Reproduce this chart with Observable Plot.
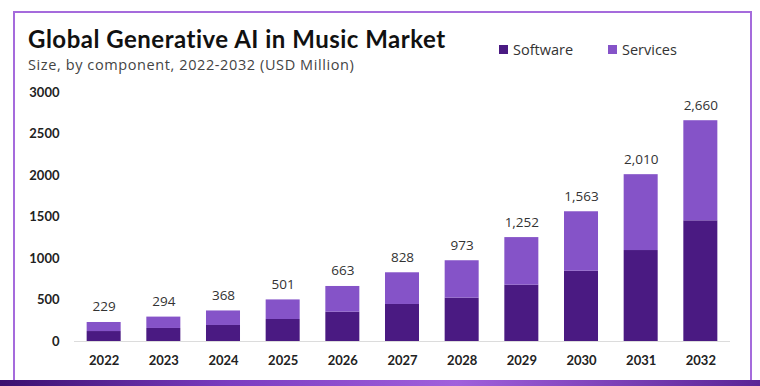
<!DOCTYPE html>
<html>
<head>
<meta charset="utf-8">
<script src="https://cdn.jsdelivr.net/npm/d3@7"></script>
<script src="https://cdn.jsdelivr.net/npm/@observablehq/plot@0.6"></script>
<style>
  html, body { margin: 0; padding: 0; background: #fff; }
  #wrap { position: relative; width: 760px; height: 386px; overflow: hidden; background: #fff; }
  #frame { position: absolute; left: 13px; top: 11px; width: 735px; height: 369px; border: 2px solid #a56bdc; border-bottom: none; box-sizing: content-box; }
  #strip { position: absolute; left: 0; top: 380px; width: 760px; height: 6px; background: linear-gradient(90deg, #3a0f6e 0%, #7a3cc0 30%, #a160dc 60%, #5a2596 100%); }
  #title { position: absolute; left: 28px; top: 24px; font-family: Lato, "Open Sans", sans-serif; font-weight: 700; font-size: 24px; color: #111; white-space: nowrap; letter-spacing: 0.5px; }
  #subtitle { position: absolute; left: 28px; top: 55px; font-family: "Open Sans", sans-serif; font-size: 14.5px; color: #444; white-space: nowrap; letter-spacing: 0.6px; }
  #legend { position: absolute; left: 499px; top: 40px; font-family: "Open Sans", sans-serif; font-size: 14.5px; color: #333; white-space: nowrap; }
  .item { position: absolute; top: 0; display: flex; align-items: center; }
  .sw { width: 9px; height: 9px; margin-right: 5px; }
  #chart { position: absolute; left: 0; top: 80px; }
</style>
</head>
<body>
<div id="wrap">
  <div id="frame"></div>
  <div id="strip"></div>
  <div id="title">Global Generative AI in Music Market</div>
  <div id="subtitle">Size, by component, 2022-2032 (USD Million)</div>
  <div id="legend"></div>
  <div id="chart"></div>
</div>
<script>
const years = ["2022","2023","2024","2025","2026","2027","2028","2029","2030","2031","2032"];
const totals = [229, 294, 368, 501, 663, 828, 973, 1252, 1563, 2010, 2660];
const software = [120, 157, 193, 265, 353, 446, 522, 678, 847, 1096, 1454];
const services = [109, 137, 175, 236, 310, 382, 451, 574, 716, 914, 1206];
const components = ["Software", "Services"];
const colors = ["#4a1a82", "#8553c8"];
const yTicks = [0, 500, 1000, 1500, 2000, 2500, 3000];

const data = years.flatMap((yr, i) => [
  {year: yr, comp: "Software", value: software[i]},
  {year: yr, comp: "Services", value: services[i]}
]);
const labels = years.map((yr, i) => ({year: yr, total: totals[i]}));

// legend
const legend = document.getElementById("legend");
const legendX = [0, 109];
components.forEach((c, i) => {
  const it = document.createElement("div");
  it.className = "item";
  it.style.left = legendX[i] + "px";
  it.innerHTML = `<span class="sw" style="background:${colors[i]}"></span><span>${c}</span>`;
  legend.appendChild(it);
});

const fmt = d3.format(",");
const chart = Plot.plot({
  width: 760,
  height: 306,
  marginTop: 12,
  marginBottom: 45,
  marginLeft: 61,
  marginRight: 17,
  style: {fontFamily: "Lato, sans-serif", background: "transparent", overflow: "visible"},
  x: {type: "band", domain: years, padding: 0.43, round: false},
  y: {domain: [0, 3000]},
  color: {domain: components, range: colors},
  marks: [
    Plot.ruleY([0], {stroke: "#dcdcdc", strokeWidth: 1, insetLeft: 13, insetRight: 13}),
    Plot.barY(data, {x: "year", y: "value", fill: "comp", order: components}),
    Plot.text(labels, {x: "year", y: "total", text: d => fmt(d.total), dy: -11, lineAnchor: "bottom",
      fontFamily: "Open Sans, sans-serif", fontSize: 13.5, fill: "#333"}),
    Plot.axisY({ticks: yTicks, tickFormat: d => String(d), tickSize: 0, tickPadding: 2, label: null,
      fontSize: 13, fontWeight: "bold", fill: "#222"}),
    Plot.axisX({tickSize: 0, tickPadding: 14, label: null, fontSize: 13, fontWeight: "bold", fill: "#222"})
  ]
});
document.getElementById("chart").appendChild(chart);
</script>
</body>
</html>
